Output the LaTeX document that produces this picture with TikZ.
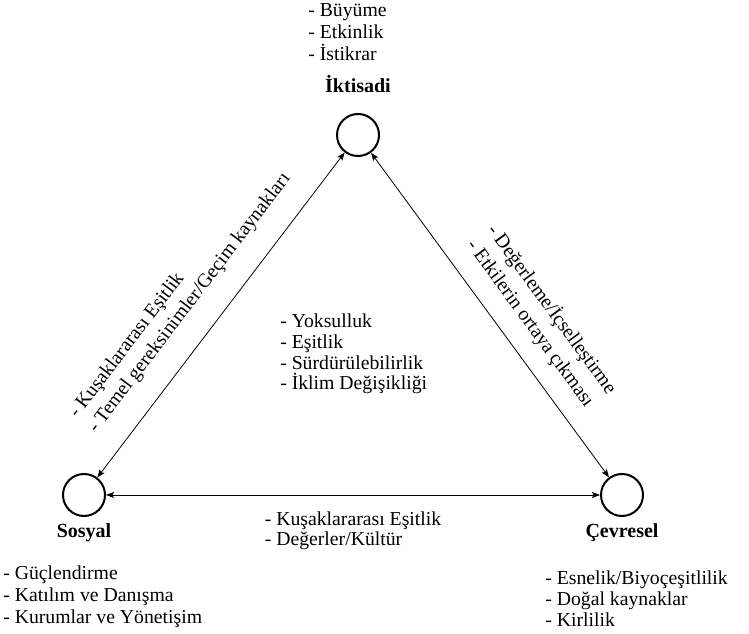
\documentclass[tikz,border=0pt]{standalone}
\usepackage{fontspec}
\setmainfont{Liberation Serif}
\usetikzlibrary{arrows.meta,positioning}

\begin{document}
\begin{tikzpicture}[
        x=0.75pt, y=-0.75pt,
        pillar/.style={
          draw,
          circle,
          line width=1.5pt,
          minimum size=31.5pt,
          inner sep=0pt
        },
        pillarname/.style={
          font=\fontsize{15}{15.5}\selectfont\bfseries,
          inner sep=0pt
        },
        items/.style={
          align=left,
          font=\fontsize{14.8}{15.5}\selectfont,
          inner sep=0pt
        },
        link/.style={
          {Stealth[length=6pt,width=4.5pt,inset=1.2pt]}-{Stealth[length=6pt,width=4.5pt,inset=1.2pt]},
          line width=0.6pt
        }
      ]

      \useasboundingbox (0,0) rectangle (749,634);

      % the three pillars
      \node[pillar] (ikt) at (358,135) {};
      \node[pillar] (sos) at (84,495) {};
      \node[pillar] (cev) at (622,495) {};

      \node[pillarname, above=15pt of ikt] (iktname) {İktisadi};
      \node[pillarname, below=4.5pt of sos] (sosname) {Sosyal};
      \node[pillarname, below=5pt of cev] (cevname) {Çevresel};

      % lists beside each pillar
      \node[items, font=\fontsize{14.8}{16.5}\selectfont, anchor=south west] (iktlist) at (308,61) {- Büyüme\\- Etkinlik\\- İstikrar};
      \node[items, font=\fontsize{14.8}{16.5}\selectfont, anchor=north west] (soslist) at (3,566) {- Güçlendirme\\- Katılım ve Danışma\\- Kurumlar ve Yönetişim};
      \node[items, anchor=north west] (cevlist) at (545,571) {- Esnelik/Biyoçeşitlilik\\- Doğal kaynaklar\\- Kirlilik};
      \node[items, anchor=north west] (core) at (280,314) {- Yoksulluk\\- Eşitlik\\- Sürdürülebilirlik\\- İklim Değişikliği};

      % links between pillars
      \draw[link] (sos) -- node[items, font=\fontsize{14.8}{18}\selectfont, sloped, above=17pt, pos=0.477] (sosikt) {- Kuşaklararası Eşitlik\\- Temel gereksinimler/Geçim kaynakları} (ikt);
      \draw[link] (ikt) -- node[items, font=\fontsize{14.8}{19}\selectfont, sloped, above=13pt, pos=0.58] (iktcev) {- Değerleme/İçselleştirme\\- Etkilerin ortaya çıkması} (cev);
      \draw[link] (sos) -- node[items, below=12pt] (soscev) {- Kuşaklararası Eşitlik\\- Değerler/Kültür} (cev);

      \end{tikzpicture}
\end{document}
